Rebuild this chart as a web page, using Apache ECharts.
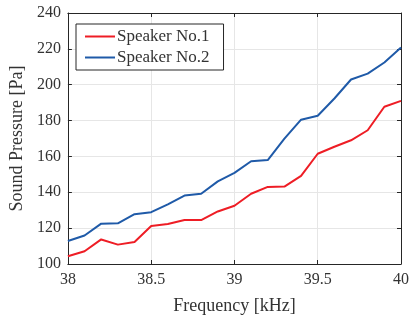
<!DOCTYPE html>
<html><head><meta charset="utf-8">
<script src="https://cdn.jsdelivr.net/npm/echarts@6/dist/echarts.min.js"></script>
<style>html,body{margin:0;padding:0;background:#fff}#c{width:412px;height:320px}</style>
</head><body><div id="c"></div>
<script>
var freq = [38.0,38.1,38.2,38.3,38.4,38.5,38.6,38.7,38.8,38.9,39.0,39.1,39.2,39.3,39.4,39.5,39.6,39.7,39.8,39.9,40.0];
var speaker1 = [104.3,107.1,113.7,110.8,112.3,121.2,122.3,124.5,124.5,129.3,132.5,139.2,143.0,143.2,149.2,161.5,165.4,169.0,174.6,187.7,191.0];
var speaker2 = [112.8,115.9,122.5,122.7,127.8,128.9,133.3,138.2,139.2,146.1,150.8,157.3,158.0,169.9,180.5,182.7,192.3,202.9,206.2,212.4,220.7];
var seriesNames = ['Speaker No.1','Speaker No.2'];
var xTicks = {min:38, max:40, interval:0.5};
var yTicks = {min:100, max:240, interval:20};

var font = '"Liberation Serif","Times New Roman",serif';
var axisCol = '#262626';
var txtCol = '#333333';
function pair(a){return freq.map(function(f,i){return [f,a[i]];});}
var chart = echarts.init(document.getElementById('c'), null, {renderer:'canvas'});
var baseX = {type:'value', min:xTicks.min, max:xTicks.max, interval:xTicks.interval};
var baseY = {type:'value', min:yTicks.min, max:yTicks.max, interval:yTicks.interval};
chart.setOption({
  animation:false,
  grid:{left:62, right:7, top:13, bottom:53, containLabel:false},
  legend:{
    data:seriesNames, orient:'vertical', left:76, top:24,
    backgroundColor:'#fff', borderColor:'#262626', borderWidth:1, padding:[4,14,4,9],
    itemWidth:30, itemHeight:2, itemGap:4,
    icon:'rect',
    textStyle:{fontFamily:font, fontSize:17, color:txtCol, padding:[0,0,0,-3]}
  },
  xAxis:[
    Object.assign({}, baseX, {position:'bottom', name:'Frequency [kHz]', nameLocation:'middle', nameGap:33,
      nameTextStyle:{fontFamily:font, fontSize:18, color:txtCol},
      axisLine:{onZero:false, lineStyle:{color:axisCol, width:1}},
      axisTick:{inside:true, length:4, lineStyle:{color:axisCol}},
      axisLabel:{fontFamily:font, fontSize:16, color:txtCol, margin:8,
        formatter:function(v){return String(+v.toFixed(1));}},
      splitLine:{show:true, lineStyle:{color:'#e6e6e6', width:1}}}),
    Object.assign({}, baseX, {position:'top',
      axisLine:{onZero:false, lineStyle:{color:axisCol, width:1}},
      axisTick:{inside:true, length:4, lineStyle:{color:axisCol}},
      axisLabel:{show:false}, splitLine:{show:false}})
  ],
  yAxis:[
    Object.assign({}, baseY, {position:'left', name:'Sound Pressure [Pa]', nameLocation:'middle', nameGap:37,
      nameTextStyle:{fontFamily:font, fontSize:18, color:txtCol},
      axisLine:{show:true, onZero:false, lineStyle:{color:axisCol, width:1}},
      axisTick:{show:true, inside:true, length:4, lineStyle:{color:axisCol}},
      axisLabel:{fontFamily:font, fontSize:16, color:txtCol, margin:7},
      splitLine:{show:true, lineStyle:{color:'#e6e6e6', width:1}}}),
    Object.assign({}, baseY, {position:'right',
      axisLine:{show:true, onZero:false, lineStyle:{color:axisCol, width:1}},
      axisTick:{show:true, inside:true, length:4, lineStyle:{color:axisCol}},
      axisLabel:{show:false}, splitLine:{show:false}})
  ],
  series:[
    {name:seriesNames[0], type:'line', data:pair(speaker1), showSymbol:false, symbol:'none',
      lineStyle:{color:'#ee1d25', width:2}, itemStyle:{color:'#ee1d25'}, z:3},
    {name:seriesNames[1], type:'line', data:pair(speaker2), showSymbol:false, symbol:'none',
      lineStyle:{color:'#1f5aa8', width:2}, itemStyle:{color:'#1f5aa8'}, z:3}
  ]
});
</script></body></html>
